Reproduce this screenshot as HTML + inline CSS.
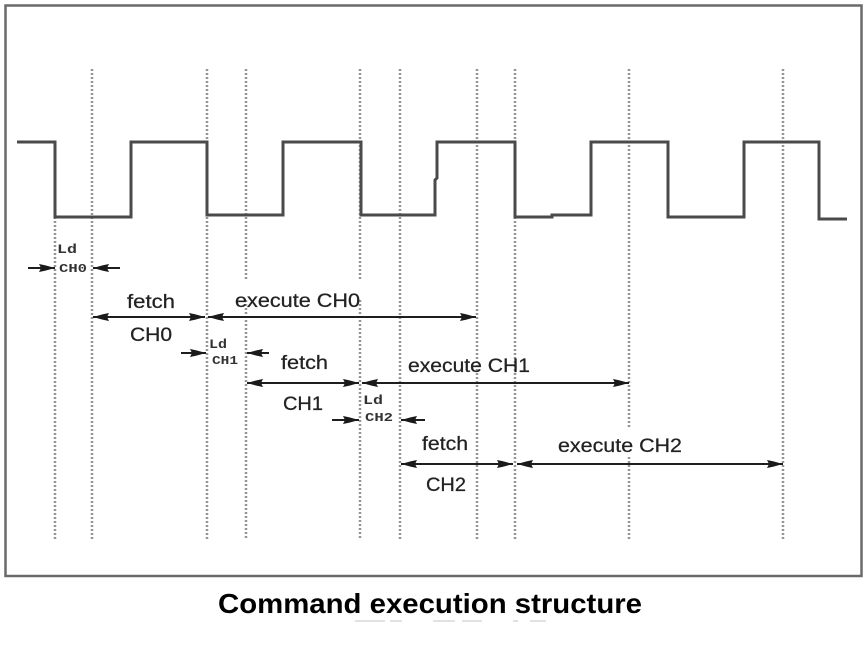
<!DOCTYPE html>
<html>
<head>
<meta charset="utf-8">
<style>
  html, body { margin:0; padding:0; background:#ffffff; }
  body { width:867px; height:648px; overflow:hidden; }
  svg { display:block; }
  .t { font-family:"Liberation Sans", "DejaVu Sans", sans-serif; font-size:19px; fill:#222; stroke:#222; stroke-width:0.25; }
  .s { font-family:"Liberation Mono", "DejaVu Sans Mono", monospace; font-weight:bold; fill:#333; }
</style>
</head>
<body>
<svg width="867" height="648" viewBox="0 0 867 648" xmlns="http://www.w3.org/2000/svg">
  <defs>
    <marker id="ah" viewBox="0 0 16 10" refX="16" refY="5" markerWidth="16" markerHeight="10" markerUnits="userSpaceOnUse" orient="auto-start-reverse">
      <path d="M0,1 L6,2.2 L16,5 L6,7.8 L0,9 L2,5 Z" fill="#1a1a1a"/>
    </marker>
  </defs>

  <rect x="0" y="0" width="867" height="648" fill="#ffffff"/>

  <!-- frame -->
  <rect x="5.5" y="5.5" width="856" height="570.5" fill="none" stroke="#6a6a6a" stroke-width="2.5"/>

  <!-- dotted vertical guides -->
  <g stroke="#959595" stroke-width="2.5" stroke-dasharray="2 2" fill="none">
    <line x1="55" y1="217" x2="55" y2="539"/>
    <line x1="92" y1="69" x2="92" y2="539"/>
    <line x1="207" y1="69" x2="207" y2="539"/>
    <line x1="246" y1="69" x2="246" y2="280"/>
    <line x1="246" y1="300" x2="246" y2="539"/>
    <line x1="360" y1="69" x2="360" y2="280"/>
    <line x1="360" y1="300" x2="360" y2="539"/>
    <line x1="400" y1="69" x2="400" y2="539"/>
    <line x1="477" y1="69" x2="477" y2="539"/>
    <line x1="515" y1="69" x2="515" y2="539"/>
    <line x1="629" y1="69" x2="629" y2="428"/>
    <line x1="629" y1="457" x2="629" y2="539"/>
    <line x1="783" y1="69" x2="783" y2="539"/>
  </g>

  <!-- clock square wave -->
  <polyline fill="none" stroke="#4a4a4a" stroke-width="3" stroke-linejoin="miter"
    points="17,142 55,142 55,217 131,217 131,142 207,142 207,215 283,215 283,142 361,142 361,215 435,215 435,180 437,178 437,142 515,142 515,217 552,217 552,215 591,215 591,142 668,142 668,217 744,217 744,142 819,142 819,219 847,219"/>

  <!-- arrows -->
  <g stroke="#1e1e1e" stroke-width="2" fill="none">
    <line x1="28" y1="268" x2="55" y2="268" marker-end="url(#ah)"/>
    <line x1="120" y1="268" x2="93" y2="268" marker-end="url(#ah)"/>
    <line x1="93" y1="317" x2="205" y2="317" marker-start="url(#ah)" marker-end="url(#ah)"/>
    <line x1="208" y1="317" x2="476" y2="317" marker-start="url(#ah)" marker-end="url(#ah)"/>
    <line x1="181" y1="353" x2="206" y2="353" marker-end="url(#ah)"/>
    <line x1="269" y1="353" x2="247" y2="353" marker-end="url(#ah)"/>
    <line x1="247" y1="383" x2="359" y2="383" marker-start="url(#ah)" marker-end="url(#ah)"/>
    <line x1="362" y1="383" x2="629" y2="383" marker-start="url(#ah)" marker-end="url(#ah)"/>
    <line x1="332" y1="420" x2="359" y2="420" marker-end="url(#ah)"/>
    <line x1="425" y1="420" x2="401" y2="420" marker-end="url(#ah)"/>
    <line x1="401" y1="464" x2="513" y2="464" marker-start="url(#ah)" marker-end="url(#ah)"/>
    <line x1="517" y1="464" x2="783" y2="464" marker-start="url(#ah)" marker-end="url(#ah)"/>
  </g>

  <!-- small Ld labels -->
  <text class="s" x="57" y="253" font-size="13" textLength="20" lengthAdjust="spacingAndGlyphs">Ld</text>
  <text class="s" x="59" y="272" font-size="12" textLength="28" lengthAdjust="spacingAndGlyphs">CH0</text>
  <text class="s" x="209" y="348" font-size="13" textLength="18" lengthAdjust="spacingAndGlyphs">Ld</text>
  <text class="s" x="212" y="364" font-size="12" textLength="26" lengthAdjust="spacingAndGlyphs">CH1</text>
  <text class="s" x="363" y="404" font-size="13" textLength="20" lengthAdjust="spacingAndGlyphs">Ld</text>
  <text class="s" x="365" y="421" font-size="12" textLength="28" lengthAdjust="spacingAndGlyphs">CH2</text>

  <!-- main labels -->
  <text class="t" x="127" y="308" textLength="48" lengthAdjust="spacingAndGlyphs">fetch</text>
  <text class="t" x="130" y="341" textLength="42" lengthAdjust="spacingAndGlyphs">CH0</text>
  <text class="t" x="235" y="307" textLength="125" lengthAdjust="spacingAndGlyphs">execute CH0</text>

  <text class="t" x="281" y="369" textLength="47" lengthAdjust="spacingAndGlyphs">fetch</text>
  <text class="t" x="283" y="410" textLength="40" lengthAdjust="spacingAndGlyphs">CH1</text>
  <text class="t" x="408" y="372" textLength="122" lengthAdjust="spacingAndGlyphs">execute CH1</text>

  <text class="t" x="422" y="450" textLength="46" lengthAdjust="spacingAndGlyphs">fetch</text>
  <text class="t" x="426" y="491" textLength="40" lengthAdjust="spacingAndGlyphs">CH2</text>
  <text class="t" x="558" y="452" textLength="124" lengthAdjust="spacingAndGlyphs">execute CH2</text>

  <!-- title -->
  <text x="218" y="613" font-family="'Liberation Sans', 'DejaVu Sans', sans-serif" font-weight="bold" font-size="28" fill="#000" textLength="424" lengthAdjust="spacingAndGlyphs">Command execution structure</text>

  <!-- faint ghost marks under title -->
  <g fill="#e2e2e2">
    <rect x="355" y="620" width="30" height="2"/>
    <rect x="390" y="620" width="12" height="2"/>
    <rect x="433" y="620" width="22" height="2"/>
    <rect x="462" y="620" width="20" height="2"/>
    <rect x="513" y="620" width="5" height="2"/>
    <rect x="530" y="620" width="16" height="2"/>
  </g>
</svg>
</body>
</html>
